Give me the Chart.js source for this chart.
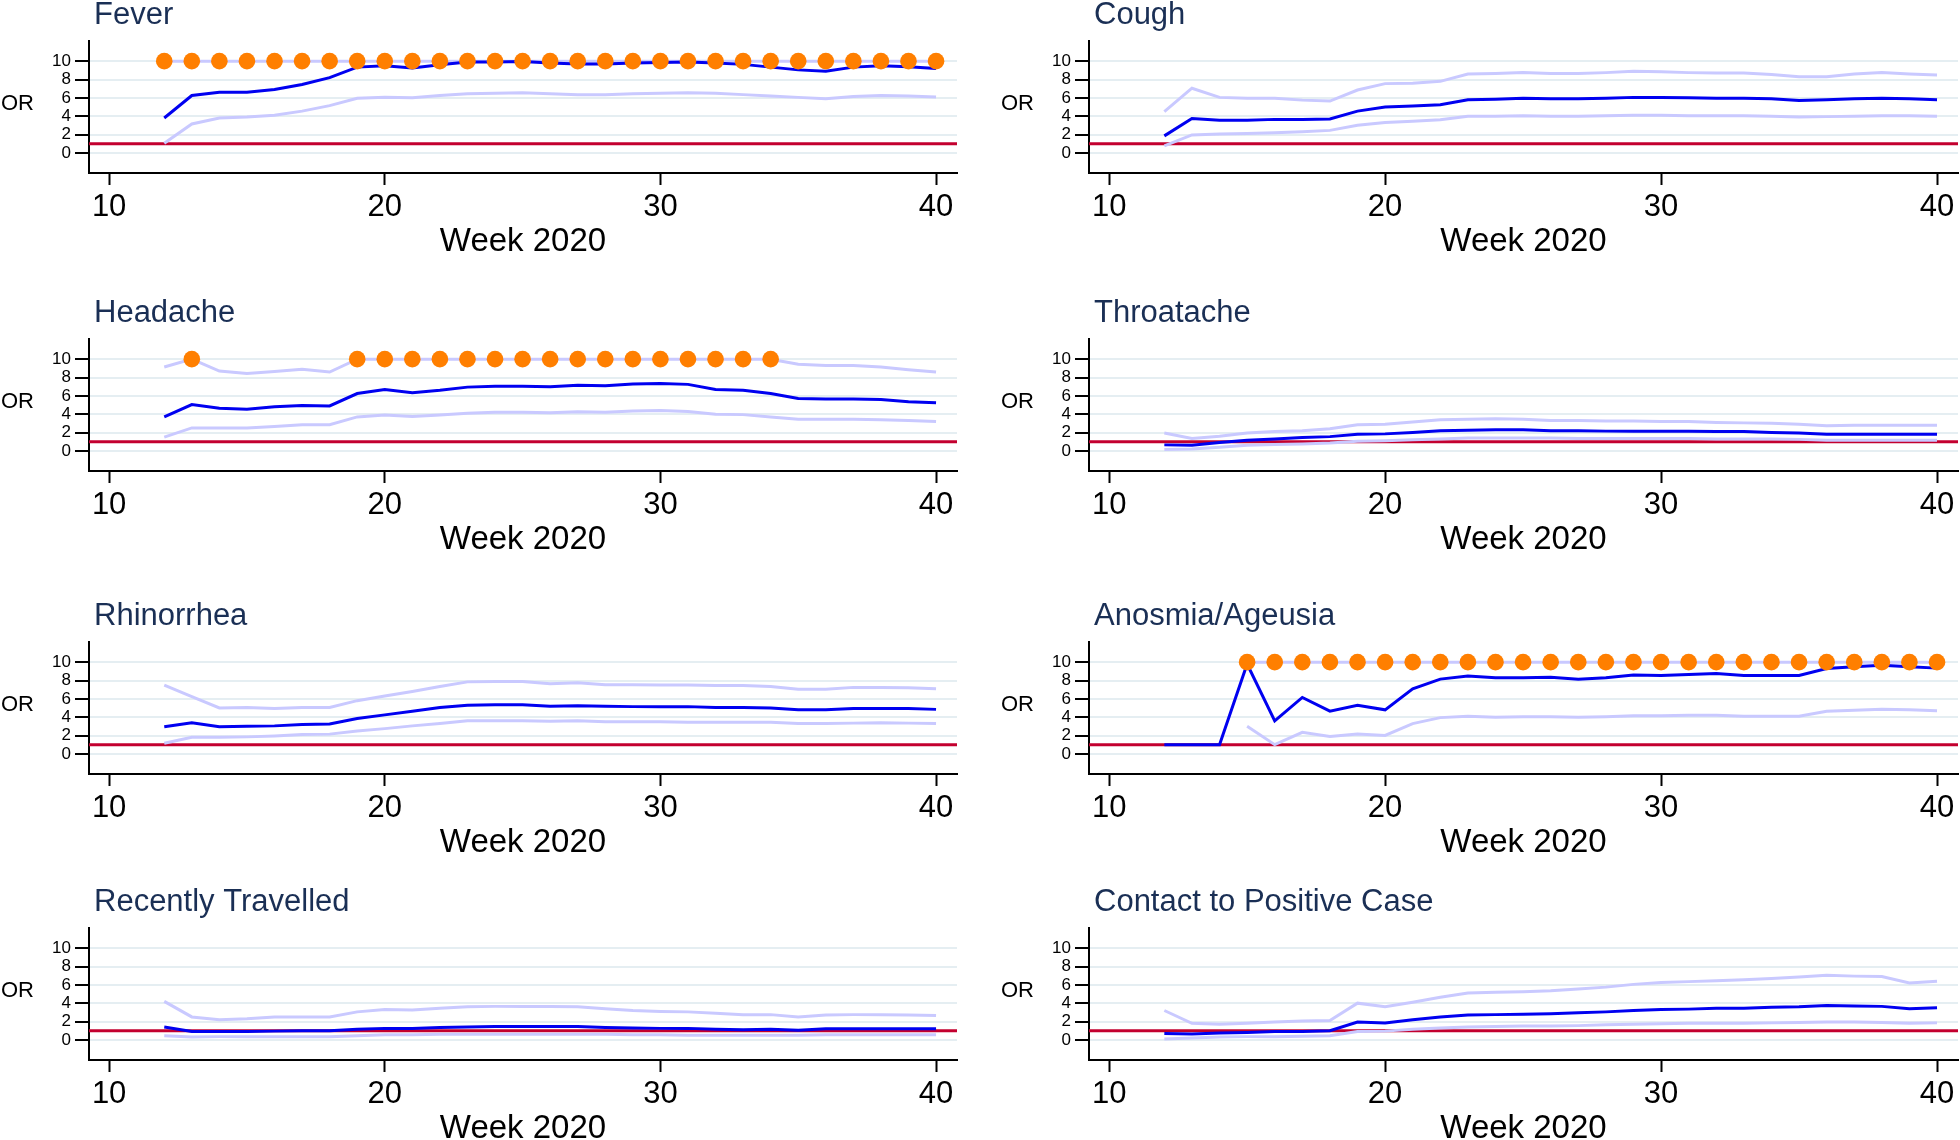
<!DOCTYPE html>
<html>
<head>
<meta charset="utf-8">
<script src="https://cdn.jsdelivr.net/npm/chart.js@4.4.1/dist/chart.umd.min.js"></script>
<style>
  html, body { margin: 0; padding: 0; background: #fff; }
  body { width: 1960px; height: 1140px; overflow: hidden; position: relative; }
  canvas { position: absolute; }
</style>
</head>
<body>
<script>
// weeks 12..40
const weeks = [12, 13, 14, 15, 16, 17, 18, 19, 20, 21, 22, 23, 24, 25, 26, 27, 28, 29, 30, 31, 32, 33, 34, 35, 36, 37, 38, 39, 40];
const xTicks = [10, 20, 30, 40];
const yTicks = [0, 2, 4, 6, 8, 10];
const refOR = 1;
const capOR = 10;

const feverOR = [3.8, 6.25, 6.6, 6.6, 6.9, 7.45, 8.2, 9.35, 9.5, 9.25, 9.6, 9.9, 9.9, 9.95, 9.8, 9.7, 9.7, 9.8, 9.85, 9.9, 9.8, 9.65, 9.35, 9.05, 8.9, 9.35, 9.5, 9.4, 9.2];
const feverLo = [1.05, 3.15, 3.8, 3.9, 4.1, 4.55, 5.15, 5.95, 6.05, 6.0, 6.25, 6.45, 6.5, 6.55, 6.45, 6.35, 6.35, 6.45, 6.5, 6.55, 6.5, 6.35, 6.2, 6.05, 5.9, 6.15, 6.25, 6.2, 6.1];
const feverHi = [10, 10, 10, 10, 10, 10, 10, 10, 10, 10, 10, 10, 10, 10, 10, 10, 10, 10, 10, 10, 10, 10, 10, 10, 10, 10, 10, 10, 10];
const feverSig = [12, 13, 14, 15, 16, 17, 18, 19, 20, 21, 22, 23, 24, 25, 26, 27, 28, 29, 30, 31, 32, 33, 34, 35, 36, 37, 38, 39, 40];

const coughOR = [1.85, 3.75, 3.55, 3.55, 3.65, 3.65, 3.7, 4.55, 5.0, 5.1, 5.25, 5.8, 5.85, 5.95, 5.9, 5.9, 5.95, 6.05, 6.05, 6.0, 5.95, 5.95, 5.9, 5.7, 5.8, 5.9, 5.95, 5.9, 5.8];
const coughLo = [0.75, 1.95, 2.05, 2.1, 2.2, 2.3, 2.45, 3.0, 3.3, 3.45, 3.6, 4.0, 4.0, 4.05, 4.0, 4.0, 4.05, 4.1, 4.1, 4.05, 4.05, 4.05, 4.0, 3.9, 3.95, 4.0, 4.05, 4.05, 4.0];
const coughHi = [4.5, 7.05, 6.05, 5.95, 5.95, 5.75, 5.65, 6.85, 7.55, 7.6, 7.8, 8.6, 8.65, 8.75, 8.65, 8.65, 8.75, 8.9, 8.85, 8.75, 8.7, 8.7, 8.55, 8.3, 8.3, 8.6, 8.75, 8.6, 8.5];
const coughSig = [];

const headOR = [3.7, 5.05, 4.65, 4.55, 4.8, 4.95, 4.9, 6.25, 6.7, 6.35, 6.6, 6.95, 7.05, 7.05, 7.0, 7.15, 7.1, 7.3, 7.35, 7.25, 6.7, 6.6, 6.25, 5.7, 5.65, 5.65, 5.6, 5.35, 5.25];
const headLo = [1.5, 2.5, 2.5, 2.5, 2.65, 2.85, 2.85, 3.7, 3.9, 3.75, 3.9, 4.1, 4.2, 4.2, 4.15, 4.25, 4.2, 4.35, 4.4, 4.3, 4.0, 3.95, 3.7, 3.45, 3.45, 3.45, 3.4, 3.3, 3.2];
const headHi = [9.15, 10, 8.7, 8.45, 8.65, 8.9, 8.6, 10, 10, 10, 10, 10, 10, 10, 10, 10, 10, 10, 10, 10, 10, 10, 10, 9.45, 9.3, 9.3, 9.15, 8.85, 8.6];
const headSig = [13, 19, 20, 21, 22, 23, 24, 25, 26, 27, 28, 29, 30, 31, 32, 33, 34];

const throatOR = [0.65, 0.6, 0.9, 1.15, 1.3, 1.45, 1.55, 1.8, 1.85, 2.0, 2.2, 2.25, 2.3, 2.3, 2.2, 2.2, 2.15, 2.15, 2.15, 2.15, 2.1, 2.1, 2.0, 1.95, 1.8, 1.8, 1.8, 1.8, 1.8];
const throatLo = [0.15, 0.2, 0.4, 0.6, 0.7, 0.75, 0.85, 1.05, 1.1, 1.2, 1.3, 1.4, 1.4, 1.4, 1.4, 1.35, 1.35, 1.35, 1.35, 1.35, 1.3, 1.3, 1.3, 1.25, 1.15, 1.15, 1.15, 1.15, 1.15];
const throatHi = [1.95, 1.35, 1.6, 1.95, 2.1, 2.2, 2.4, 2.85, 2.9, 3.15, 3.4, 3.45, 3.5, 3.45, 3.3, 3.3, 3.25, 3.25, 3.2, 3.2, 3.1, 3.05, 3.0, 2.9, 2.75, 2.8, 2.8, 2.8, 2.8];
const throatSig = [];

const rhinoOR = [2.95, 3.4, 2.95, 3.0, 3.05, 3.2, 3.25, 3.85, 4.25, 4.65, 5.05, 5.3, 5.35, 5.35, 5.2, 5.25, 5.2, 5.15, 5.15, 5.15, 5.05, 5.05, 5.0, 4.8, 4.8, 4.95, 4.95, 4.95, 4.85];
const rhinoLo = [1.15, 1.8, 1.8, 1.85, 1.95, 2.1, 2.15, 2.5, 2.75, 3.05, 3.3, 3.6, 3.6, 3.6, 3.55, 3.6, 3.5, 3.5, 3.5, 3.45, 3.45, 3.45, 3.45, 3.3, 3.3, 3.35, 3.4, 3.35, 3.3];
const rhinoHi = [7.5, 6.25, 5.0, 5.05, 4.95, 5.05, 5.05, 5.8, 6.3, 6.8, 7.35, 7.85, 7.9, 7.9, 7.65, 7.75, 7.55, 7.55, 7.5, 7.5, 7.45, 7.45, 7.35, 7.05, 7.05, 7.25, 7.25, 7.2, 7.1];
const rhinoSig = [];

const anosOR = [1, 1, 1, 9.8, 3.6, 6.15, 4.65, 5.3, 4.8, 7.1, 8.15, 8.5, 8.3, 8.3, 8.35, 8.15, 8.3, 8.6, 8.55, 8.65, 8.75, 8.55, 8.55, 8.55, 9.3, 9.5, 9.65, 9.5, 9.35];
const anosLo = [null, null, null, 3.0, 1.0, 2.35, 1.9, 2.15, 2.0, 3.3, 3.95, 4.1, 4.0, 4.05, 4.05, 4.0, 4.05, 4.15, 4.15, 4.2, 4.2, 4.1, 4.1, 4.1, 4.65, 4.75, 4.85, 4.8, 4.7];
const anosHi = [null, null, null, 10, 10, 10, 10, 10, 10, 10, 10, 10, 10, 10, 10, 10, 10, 10, 10, 10, 10, 10, 10, 10, 10, 10, 10, 10, 10];
const anosSig = [15, 16, 17, 18, 19, 20, 21, 22, 23, 24, 25, 26, 27, 28, 29, 30, 31, 32, 33, 34, 35, 36, 37, 38, 39, 40];

const travelOR = [1.4, 0.9, 0.9, 0.9, 0.95, 1.0, 1.0, 1.15, 1.25, 1.25, 1.35, 1.4, 1.45, 1.45, 1.45, 1.45, 1.35, 1.3, 1.25, 1.25, 1.15, 1.1, 1.15, 1.05, 1.2, 1.2, 1.2, 1.2, 1.2];
const travelLo = [0.45, 0.3, 0.35, 0.35, 0.35, 0.35, 0.35, 0.45, 0.55, 0.55, 0.6, 0.6, 0.6, 0.6, 0.6, 0.6, 0.6, 0.55, 0.55, 0.5, 0.5, 0.5, 0.5, 0.5, 0.55, 0.55, 0.55, 0.55, 0.55];
const travelHi = [4.2, 2.5, 2.2, 2.3, 2.5, 2.5, 2.5, 3.05, 3.3, 3.25, 3.45, 3.6, 3.65, 3.65, 3.65, 3.6, 3.4, 3.2, 3.1, 3.05, 2.9, 2.75, 2.75, 2.5, 2.7, 2.75, 2.75, 2.7, 2.65];
const travelSig = [];

const contactOR = [0.7, 0.65, 0.75, 0.8, 0.9, 0.9, 1.0, 1.95, 1.85, 2.2, 2.5, 2.7, 2.75, 2.8, 2.85, 2.95, 3.05, 3.2, 3.3, 3.35, 3.45, 3.45, 3.55, 3.6, 3.75, 3.7, 3.65, 3.4, 3.5];
const contactLo = [0.1, 0.2, 0.3, 0.35, 0.35, 0.4, 0.45, 0.9, 0.95, 1.15, 1.3, 1.4, 1.45, 1.5, 1.5, 1.55, 1.65, 1.7, 1.75, 1.8, 1.8, 1.8, 1.85, 1.9, 1.95, 1.95, 1.9, 1.8, 1.85];
const contactHi = [3.2, 1.8, 1.7, 1.8, 1.95, 2.05, 2.1, 4.0, 3.6, 4.1, 4.65, 5.1, 5.2, 5.25, 5.35, 5.55, 5.75, 6.05, 6.25, 6.35, 6.45, 6.55, 6.7, 6.85, 7.05, 6.95, 6.9, 6.2, 6.4];
const contactSig = [];

const titles = ["Fever", "Cough", "Headache", "Throatache", "Rhinorrhea", "Anosmia/Ageusia", "Recently Travelled", "Contact to Positive Case"];
const series = [
  [feverOR, feverLo, feverHi, feverSig],
  [coughOR, coughLo, coughHi, coughSig],
  [headOR, headLo, headHi, headSig],
  [throatOR, throatLo, throatHi, throatSig],
  [rhinoOR, rhinoLo, rhinoHi, rhinoSig],
  [anosOR, anosLo, anosHi, anosSig],
  [travelOR, travelLo, travelHi, travelSig],
  [contactOR, contactLo, contactHi, contactSig],
];

// axis limits
const xMin = 9.27, xMax = 40.76;
const yMin = -2.2, yMax = 12.2;

// page layout (right column canvas runs past the page edge so the
// dots at week 40 don't force extra right padding)
const colLeft = [0, 1000];
const colWidth = [980, 972];
const colPadRight = [23, 14];
const rowTop = [41, 339, 642, 928]; // top of plot area
const topSpace = 50;
const plotHeight = 132;
const xAxisHeight = 89;

const FONT = "'Liberation Sans', Arial, Helvetica, sans-serif";

// panel title + horizontal "OR" label
const panelText = {
  id: "panelText",
  afterDraw(chart, args, opts) {
    const { ctx, chartArea } = chart;
    ctx.save();
    ctx.textBaseline = "middle";
    ctx.textAlign = "left";
    ctx.fillStyle = "#1a2f55";
    ctx.font = "31px " + FONT;
    ctx.fillText(opts.title, chartArea.left + 5, chartArea.top - 26);
    ctx.fillStyle = "#000";
    ctx.font = "22px " + FONT;
    ctx.fillText("OR", 1, (chartArea.top + chartArea.bottom) / 2 - 3);
    ctx.restore();
  },
};

function pts(values) {
  return weeks.map((w, i) => ({ x: w, y: values[i] }));
}

function makePanel(index) {
  const col = index % 2;
  const row = Math.floor(index / 2);
  const [orv, lo, hi, sig] = series[index];

  const canvas = document.createElement("canvas");
  const h = topSpace + plotHeight + xAxisHeight;
  canvas.width = colWidth[col];
  canvas.height = h;
  canvas.style.left = colLeft[col] + "px";
  canvas.style.top = rowTop[row] - topSpace + "px";
  canvas.style.width = colWidth[col] + "px";
  canvas.style.height = h + "px";
  document.body.appendChild(canvas);

  new Chart(canvas.getContext("2d"), {
    type: "line",
    data: {
      datasets: [
        {
          data: sig.map((w) => ({ x: w, y: capOR })),
          showLine: false,
          pointRadius: 8.3,
          pointBackgroundColor: "#ff7f00",
          pointBorderWidth: 0,
        },
        {
          data: pts(orv),
          borderColor: "#0000f0",
          borderWidth: 3,
          pointRadius: 0,
        },
        {
          data: pts(hi),
          borderColor: "#c9c9ff",
          borderWidth: 3,
          pointRadius: 0,
        },
        {
          data: pts(lo),
          borderColor: "#c9c9ff",
          borderWidth: 3,
          pointRadius: 0,
        },
        {
          data: [{ x: xMin, y: refOR }, { x: xMax, y: refOR }],
          borderColor: "#c3002f",
          borderWidth: 3,
          pointRadius: 0,
        },
      ],
    },
    options: {
      responsive: false,
      animation: false,
      events: [],
      layout: { padding: { top: topSpace, right: colPadRight[col], bottom: 0, left: 0 } },
      elements: { line: { tension: 0 } },
      spanGaps: false,
      plugins: {
        legend: { display: false },
        tooltip: { enabled: false },
        panelText: { title: titles[index] },
      },
      scales: {
        x: {
          type: "linear",
          min: xMin,
          max: xMax,
          afterBuildTicks: (s) => { s.ticks = xTicks.map((v) => ({ value: v })); },
          afterFit: (s) => { s.height = xAxisHeight; },
          ticks: { color: "#000", font: { family: FONT, size: 31 }, padding: 4, maxRotation: 0, autoSkip: false },
          grid: { drawOnChartArea: false, drawTicks: true, tickLength: 12, tickColor: "#000", tickWidth: 2 },
          border: { display: true, color: "#000", width: 2 },
          title: { display: true, text: "Week 2020", color: "#000", font: { family: FONT, size: 33 }, padding: 0 },
        },
        y: {
          min: yMin,
          max: yMax,
          afterBuildTicks: (s) => { s.ticks = yTicks.map((v) => ({ value: v })); },
          afterFit: (s) => { s.width = 89; },
          ticks: { color: "#000", font: { family: FONT, size: 17 }, padding: 4 },
          grid: { color: "#e5eef2", lineWidth: 2, tickLength: 14, tickColor: "#000", tickWidth: 2 },
          border: { display: true, color: "#000", width: 2 },
        },
      },
    },
    plugins: [panelText],
  });
}

function main() {
  for (let i = 0; i < titles.length; i++) {
    makePanel(i);
  }
}

document.addEventListener("DOMContentLoaded", main);
</script>
</body>
</html>
